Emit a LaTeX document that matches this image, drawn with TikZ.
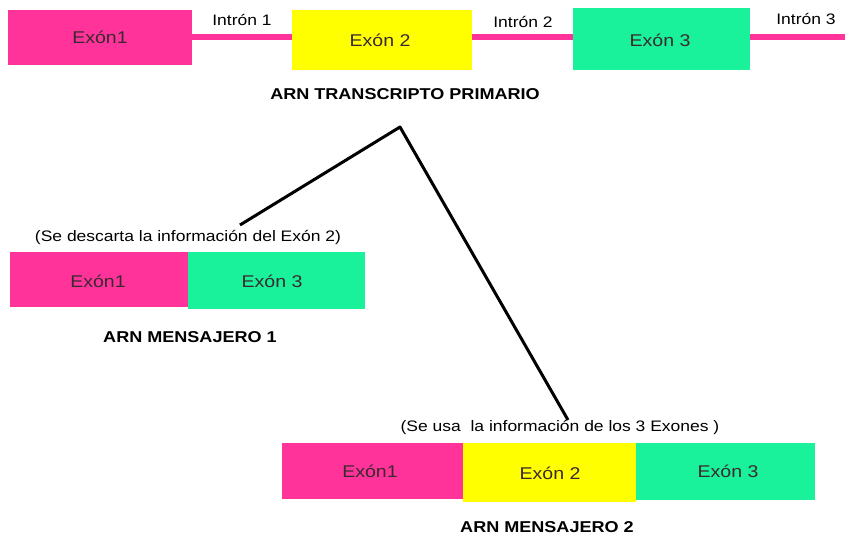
\documentclass[tikz,border=0pt]{standalone}
\usepackage{fontspec}
\setmainfont{Liberation Sans}[FakeStretch=1.15]
\definecolor{exA}{HTML}{FF3399}
\definecolor{exB}{HTML}{FFFF00}
\definecolor{exC}{HTML}{19F29A}
\definecolor{txt}{HTML}{3A2A30}
\begin{document}
\begin{tikzpicture}[x=1pt,y=-1pt,
  exbox/.style={inner sep=0pt, text=txt, font=\fontsize{17}{17}\selectfont},
  intron/.style={exA, line width=6pt},
  lbl/.style={inner sep=0pt, font=\fontsize{15.2}{15}\selectfont},
  title/.style={inner sep=0pt, font=\fontsize{15.7}{16}\selectfont\bfseries},
  link/.style={line width=3pt, black}]
\useasboundingbox[fill=white] (0,0) rectangle (845,540);
% primary transcript
\draw[intron] (192,37) -- (845,37);
\fill[exA] (8,10) rectangle (192,65);
\fill[exB] (292,10) rectangle (472,70);
\fill[exC] (573,8) rectangle (750,70);
\node[exbox] (p1) at (100,37) {Exón1};
\node[exbox] (p2) at (380,40) {Exón 2};
\node[exbox] (p3) at (660,40) {Exón 3};
\node[lbl] (i1) at (242,20) {Intrón 1};
\node[lbl] (i2) at (523,22) {Intrón 2};
\node[lbl] (i3) at (806,19) {Intrón 3};
\node[title] (tp) at (405,94) {ARN TRANSCRIPTO PRIMARIO};
% connectors
\coordinate (apex) at (400,127);
\coordinate (e1) at (240,225);
\coordinate (e2) at (568,420);
\draw[link, line join=round] (e1) -- (apex) -- (e2);
% messenger 1
\fill[exA] (10,252) rectangle (188,307);
\fill[exC] (188,252) rectangle (365,309);
\node[lbl] (d1) at (188,237) {(Se descarta la información del Exón 2)};
\node[exbox] (m1a) at (98,281) {Exón1};
\node[exbox] (m1b) at (272,281) {Exón 3};
\node[title] (t1) at (190,337) {ARN MENSAJERO 1};
% messenger 2
\fill[exA] (282,443) rectangle (463,499);
\fill[exB] (463,443) rectangle (636,502);
\fill[exC] (636,443) rectangle (815,500);
\node[lbl] (d2) at (560,427) {(Se usa\ \ la información de los 3 Exones )};
\node[exbox] (m2a) at (370,471) {Exón1};
\node[exbox] (m2b) at (550,473) {Exón 2};
\node[exbox] (m2c) at (728,471) {Exón 3};
\node[title] (t2) at (547,527) {ARN MENSAJERO 2};
\end{tikzpicture}
\end{document}
